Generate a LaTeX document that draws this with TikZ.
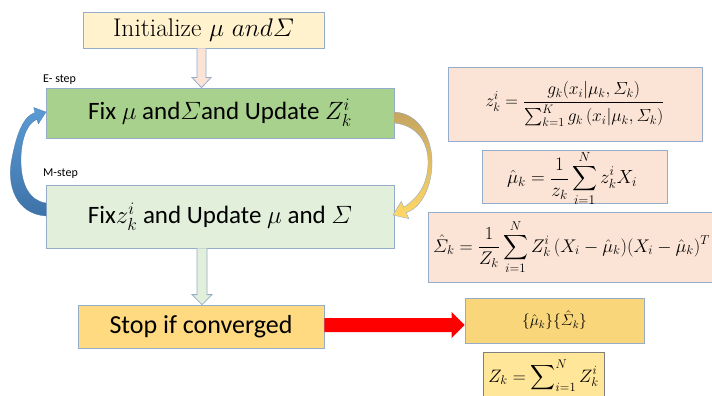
\documentclass[tikz,border=0pt]{standalone}
\usepackage{fix-cm}
\usepackage{amsmath}
\usepackage{fontspec}
\newfontfamily\carl{Carlito}
\usetikzlibrary{calc}
\definecolor{bord}{HTML}{95ADCB}
\definecolor{initc}{HTML}{FFF2CC}
\definecolor{egreen}{HTML}{A9D18E}
\definecolor{mgreen}{HTML}{E2EFDA}
\definecolor{stopc}{HTML}{FFDA80}
\definecolor{resc}{HTML}{FAD67A}
\definecolor{zc}{HTML}{FFE699}
\definecolor{pinkc}{HTML}{FBE4D6}
\definecolor{blueA}{HTML}{5B9BD5}
\definecolor{blueB}{HTML}{3E72A8}
\definecolor{goldA}{HTML}{C6A560}
\definecolor{goldB}{HTML}{FFD966}
\definecolor{zbord}{HTML}{7F7F7F}
\begin{document}
\begin{tikzpicture}[x=1pt,y=-1pt,
  box/.style={draw=bord, line width=0.8pt, inner sep=0pt, rectangle},
  blk/.style={draw=bord, line width=0.8pt, line join=miter},
  bigtxt/.style={font=\carl\fontsize{25}{30}\selectfont},
  lab/.style={font=\carl\fontsize{12}{14}\selectfont, inner sep=0pt},
  eq/.style={font=\fontsize{18.3}{22}\selectfont, inner sep=0pt}]
\useasboundingbox (0,0) rectangle (712,396);
\fill[white] (0,0) rectangle (712,396);

% left column boxes
\node[box, fill=initc, minimum width=241pt, minimum height=36pt] (init) at (203.5,30)
  {\fontsize{25.5}{28}\selectfont Initialize $\mu\ and\varSigma$};
\node[box, fill=egreen, minimum width=348pt, minimum height=50pt, bigtxt] (estep) at (220,113)
  {Fix $\mu$ and$\varSigma$and Update $Z_k^i$};
\node[box, fill=mgreen, minimum width=348pt, minimum height=63pt, bigtxt] (mstep) at (220,216.5)
  {Fix$z_k^i$ and Update $\mu$ and $\varSigma$};
\node[box, fill=stopc, minimum width=246pt, minimum height=43pt, font=\carl\fontsize{26}{30}\selectfont] (stop) at (201,326.5)
  {Stop if converged};

\node[lab, anchor=base west] (elab) at (43,82) {E- step};
\node[lab, anchor=base west] (mlab) at (43,176) {M-step};

% right column boxes
\node[box, fill=pinkc, minimum width=254pt, minimum height=74pt] (zbox) at (575,104) {};
\node[eq, font=\fontsize{17.5}{21}\selectfont] (zeq) at (zbox.center)
  {$\displaystyle z_k^i=\frac{g_k(x_i|\mu_k,\varSigma_k)}{\sum_{k=1}^{K} g_k\,(x_i|\mu_k,\varSigma_k)}$};
\node[box, fill=pinkc, minimum width=185pt, minimum height=53pt] (mubox) at (574.5,176.5) {};
\node[eq, font=\fontsize{19}{22}\selectfont] (mueq) at (572,178.5)
  {$\displaystyle \hat\mu_k=\frac{1}{z_k}\sum_{i=1}^{N} z_k^i X_i$};
\node[box, fill=pinkc, minimum width=286pt, minimum height=70pt] (sigbox) at (571,247) {};
\node[eq] (sigeq) at (571.5,247)
  {$\displaystyle \hat{\varSigma}_k=\frac{1}{Z_k}\sum_{i=1}^{N} Z_k^i\,(X_i-\hat\mu_k)(X_i-\hat\mu_k)^T$};
\node[box, fill=resc, minimum width=179pt, minimum height=45pt] (result) at (554.5,320.5)
  {\fontsize{15.5}{18}\selectfont $\{\hat\mu_k\}\{\hat\varSigma_k\}$};
\node[box, draw=zbord, fill=zc, minimum width=121pt, minimum height=50pt] (zkbox) at (543.5,377) {};
\node[eq, anchor=base, font=\fontsize{18}{22}\selectfont] (zkeq) at (543.5,382)
  {$\displaystyle Z_k=\sum\nolimits_{i=1}^{N} Z_k^i$};

% block arrows
\draw[blk, fill=pinkc] let \p1=(init.south), \p2=(estep.north) in
  (\x1-6.5pt,\y1) -- (\x1-6.5pt,\y2+10pt) -- (\x1-11.5pt,\y2+10pt) -- (\x1-2pt,\y2)
  -- (\x1+7.5pt,\y2+10pt) -- (\x1+2.5pt,\y2+10pt) -- (\x1+2.5pt,\y1);
\draw[blk, fill=mgreen] let \p1=(mstep.south), \p2=(stop.north) in
  (\x2-4pt,\y1) -- (\x2-4pt,\y2+10pt) -- (\x2-9pt,\y2+10pt) -- (\x2+1pt,\y2)
  -- (\x2+11pt,\y2+10pt) -- (\x2+6pt,\y2+10pt) -- (\x2+6pt,\y1);
\fill[red] let \p1=(stop.east), \p2=(result.west) in
  (\x1,\y1-5.5pt) -- (\x2-13pt,\y1-5.5pt) -- (\x2-13pt,\y1-11.5pt) -- (\x2,\y1+1.5pt)
  -- (\x2-13pt,\y1+14.5pt) -- (\x2-13pt,\y1+8.5pt) -- (\x1,\y1+8.5pt) -- cycle;

% curved arrows (E <-> M loop)
\path[top color=blueA, bottom color=blueB, draw=blueA!80!black, line width=0.3pt]
  (46,216) .. controls (16,214) and (6,185) .. (12,158)
  .. controls (17,132) and (24,116) .. (35,112.6)
  -- (33.7,107.5) -- (46,112) -- (38.3,124) -- (37,119.4)
  .. controls (29,122) and (22,135) .. (21,156)
  .. controls (20,185) and (30,201) .. (46,203) -- cycle;
\path[top color=goldA, bottom color=goldB, draw=bord, line width=0.4pt]
  (394,112) .. controls (420,113) and (433,140) .. (432,165)
  .. controls (431,190) and (420,208) .. (406.2,212.8)
  -- (408.8,218.6) -- (393,215) -- (401.2,201.4) -- (403.8,207.2)
  .. controls (418,198) and (427,185) .. (428,165)
  .. controls (429,140) and (415,125) .. (394,123) -- cycle;
\end{tikzpicture}
\end{document}
